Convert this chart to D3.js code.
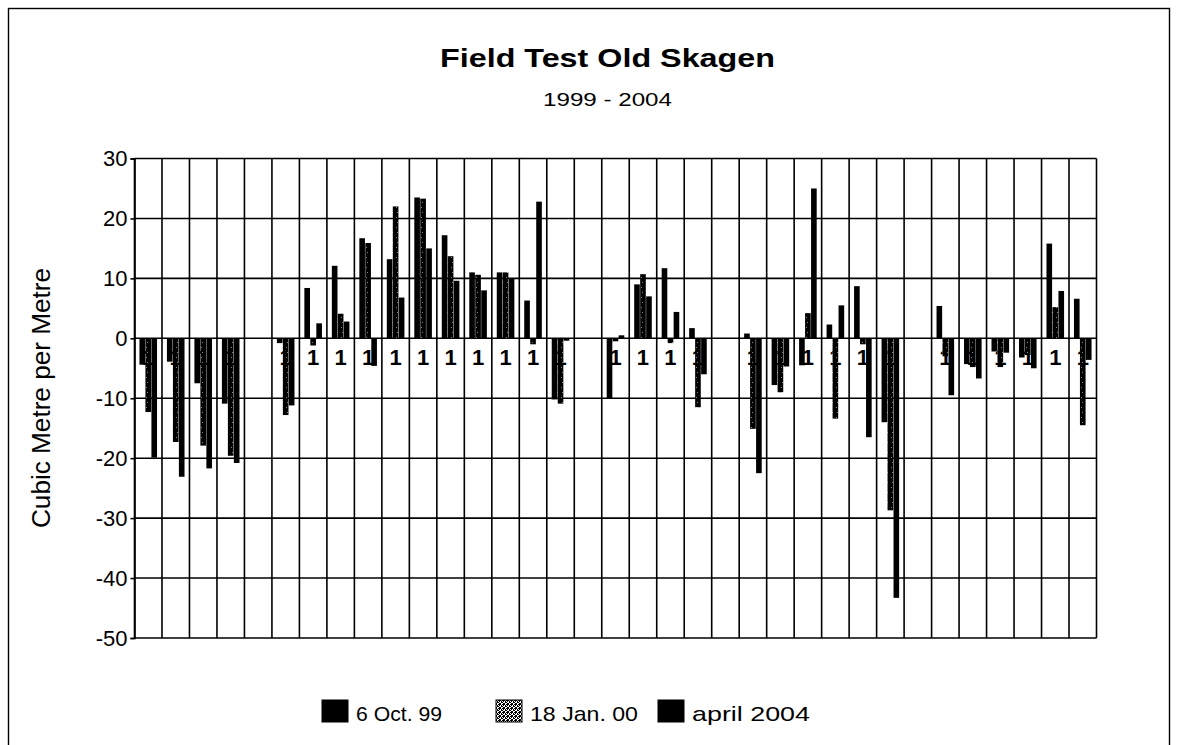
<!DOCTYPE html>
<html>
<head>
<meta charset="utf-8">
<script src="https://cdn.jsdelivr.net/npm/d3@7"></script>
<style>
  body { margin: 0; background: #fff; }
  text { font-family: "Liberation Sans", Arial, sans-serif; fill: #000; }
</style>
</head>
<body>
<svg id="chart" width="1177" height="745"></svg>
<script>
// ---------------- data ----------------
const categories = ["P1","P2","P3","P4","P5","P6","P7","P8","P9","P10",
  "P11","P12","P13","P14","P15","P16","P17","P18","P19","P20",
  "P21","P22","P23","P24","P25","P26","P27","P28","P29","P30",
  "P31","P32","P33","P34","P35"];
const axisLabels = ["1","1","1","1","","1","1","1","1","1",
  "1","1","1","1","1","1","","1","1","1",
  "1","","1","1","1","1","1","1","","1",
  "1","1","1","1","1"];
const seriesNames = ["6 Oct. 99", "18 Jan. 00", "april 2004"];
const oct99 = [-4.4,-3.9,-7.5,-10.9,null,-0.8,8.4,12.1,16.7,13.2,
  23.5,17.2,11.0,11.0,6.3,-10.2,null,-10.0,9.0,11.7,
  1.7,null,0.8,-7.8,-4.5,2.3,8.7,-14.0,null,5.4,
  -4.3,-2.2,-3.2,15.8,6.6];
const jan00 = [-12.3,-17.3,-17.9,-19.6,null,-12.8,-1.2,4.1,15.9,22.0,
  23.3,13.7,10.6,11.0,-1.0,-10.9,null,-0.5,10.7,-0.8,
  -11.5,null,-15.1,-9.0,4.2,-13.4,-1.0,-28.7,null,-3.0,
  -4.8,-4.8,-2.8,5.2,-14.5];
const apr04 = [-19.9,-23.1,-21.7,-20.8,null,-11.2,2.5,2.8,-4.6,6.8,
  15.0,9.6,8.0,10.0,22.8,-0.4,null,0.5,7.0,4.4,
  -6.0,null,-22.5,-4.7,25.0,5.5,-16.5,-43.3,null,-9.5,
  -6.7,-2.4,-5.0,7.9,-3.6];
const yTicks = [30,20,10,0,-10,-20,-30,-40,-50];
const titleText = "Field Test Old Skagen";
const subtitleText = "1999 - 2004";
const yAxisTitle = "Cubic Metre per Metre";

// ---------------- layout ----------------
const svg = d3.select("#chart");
const plot = { left: 134.5, right: 1096.5, top: 158.5, bottom: 638 };

const defs = svg.append("defs");
// speckled fill for the 18 Jan. 00 series (bars: mostly dark)
const pBar = defs.append("pattern").attr("id","speckBar")
  .attr("patternUnits","userSpaceOnUse").attr("width",5).attr("height",10);
pBar.append("rect").attr("width",5).attr("height",10).attr("fill","#000");
[[2,2],[1,7]].forEach(([px,py]) =>
  pBar.append("rect").attr("x",px).attr("y",py).attr("width",1).attr("height",1).attr("fill","#888"));
// legend swatch: lighter speckle
const pLeg = defs.append("pattern").attr("id","speckLeg")
  .attr("patternUnits","userSpaceOnUse").attr("width",4).attr("height",4);
pLeg.append("rect").attr("width",4).attr("height",4).attr("fill","#fff");
[[0,0],[1,1],[3,0],[2,2],[0,3],[3,3],[1,2],[2,0],[3,1]].forEach(([px,py]) =>
  pLeg.append("rect").attr("x",px).attr("y",py).attr("width",1).attr("height",1).attr("fill","#000"));

// outer chart border
svg.append("rect").attr("x",8.5).attr("y",8.5).attr("width",1161).attr("height",760)
  .attr("fill","none").attr("stroke","#000").attr("stroke-width",1.4);

const x0 = d3.scaleBand().domain(categories)
  .range([plot.left, plot.right]).paddingInner(0.36).paddingOuter(0.18);
const x1 = d3.scaleBand().domain(seriesNames)
  .range([0, x0.bandwidth()]).paddingInner(0.06);
const y = d3.scaleLinear().domain([-50, 30]).range([plot.bottom, plot.top]);

// grid
const g = svg.append("g");
g.selectAll("line.h").data(yTicks).join("line")
  .attr("x1", plot.left).attr("x2", plot.right)
  .attr("y1", d => y(d)).attr("y2", d => y(d))
  .attr("stroke","#000").attr("stroke-width",1.6);
const step = x0.step();
const bounds = categories.map(c => x0(c) - step * 0.18).concat([plot.right]);
g.selectAll("line.v").data(bounds).join("line")
  .attr("x1", d => d).attr("x2", d => d)
  .attr("y1", plot.top).attr("y2", plot.bottom)
  .attr("stroke","#000").attr("stroke-width",1.6);

// y axis
const yAxis = svg.append("g").attr("transform", `translate(${plot.left},0)`)
  .call(d3.axisLeft(y).tickValues(yTicks).tickSize(4).tickPadding(3).tickFormat(d => String(d)));
yAxis.select(".domain").attr("stroke","#000").attr("stroke-width",1.6);
yAxis.selectAll(".tick line").attr("stroke","#000").attr("stroke-width",1.6);
yAxis.selectAll(".tick text").attr("font-size",22).attr("fill","#000")
  .attr("font-family","Liberation Sans, Arial, sans-serif");

// category labels (sit at the zero line, drawn under the bars)
svg.append("g").selectAll("text").data(categories).join("text")
  .attr("x", c => x0(c) + x0.bandwidth()/2)
  .attr("y", y(0) + 27)
  .attr("text-anchor","middle").attr("font-size",22).attr("font-weight","bold")
  .text((c,i) => axisLabels[i]);

// bars
const seriesVals = [oct99, jan00, apr04];
const fills = ["#000", "url(#speckBar)", "#000"];
const barData = [];
categories.forEach((c, i) => {
  seriesNames.forEach((s, k) => {
    const v = seriesVals[k][i];
    if (v !== null) barData.push({ c, s, k, v });
  });
});
svg.append("g").selectAll("rect").data(barData).join("rect")
  .attr("x", d => x0(d.c) + x1(d.s))
  .attr("width", x1.bandwidth())
  .attr("y", d => y(Math.max(0, d.v)))
  .attr("height", d => Math.abs(y(d.v) - y(0)))
  .attr("fill", d => fills[d.k]);

// titles
svg.append("text").attr("x", 607.5).attr("y", 67).attr("text-anchor","middle")
  .attr("font-size",25).attr("font-weight","bold")
  .attr("textLength",335).attr("lengthAdjust","spacingAndGlyphs").text(titleText);
svg.append("text").attr("x", 607.5).attr("y", 106).attr("text-anchor","middle")
  .attr("font-size",19)
  .attr("textLength",129).attr("lengthAdjust","spacingAndGlyphs").text(subtitleText);
svg.append("text").attr("transform","translate(50,398) rotate(-90)")
  .attr("text-anchor","middle").attr("font-size",25)
  .attr("textLength",260).attr("lengthAdjust","spacingAndGlyphs").text(yAxisTitle);

// legend
const legendX = [322, 496, 658];
const legendW = [86, 108, 118];
const legendFills = ["#000", "url(#speckLeg)", "#000"];
const leg = svg.append("g");
seriesNames.forEach((s, k) => {
  leg.append("rect").attr("x", legendX[k]).attr("y", 700).attr("width", 26).attr("height", 22)
    .attr("fill", legendFills[k]).attr("stroke","#000").attr("stroke-width",1);
  leg.append("text").attr("x", legendX[k] + 34).attr("y", 721).attr("font-size",21)
    .attr("textLength", legendW[k]).attr("lengthAdjust","spacingAndGlyphs").text(s);
});
</script>
</body>
</html>
